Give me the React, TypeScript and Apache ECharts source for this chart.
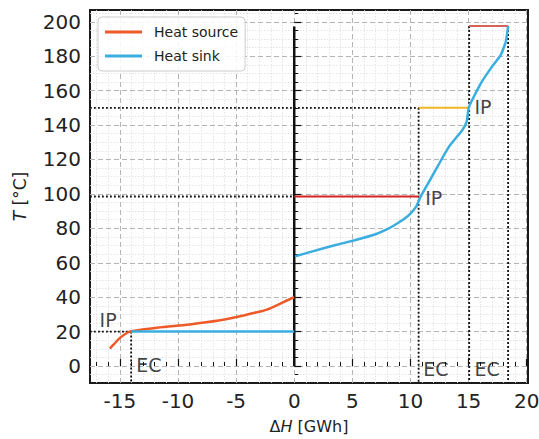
import React, { useEffect, useRef } from "react";
import * as echarts from "echarts";

// Axis limits (matplotlib style margins)
const X_MIN = -17.57;
const X_MAX = 20.11;
const Y_MIN = -9.85;
const Y_MAX = 206.85;

// Tick values
const xMajorTicks = [-15, -10, -5, 0, 5, 10, 15, 20];
const yMajorTicks = [0, 20, 40, 60, 80, 100, 120, 140, 160, 180, 200];
const xMinorTicks = [-17, -16, -14, -13, -12, -11, -9, -8, -7, -6, -4, -3, -2, -1, 1, 2, 3, 4, 6, 7, 8, 9, 11, 12, 13, 14, 16, 17, 18, 19];
const yMinorTicks = [-5, 5, 10, 15, 25, 30, 35, 45, 50, 55, 65, 70, 75, 85, 90, 95, 105, 110, 115, 125, 130, 135, 145, 150, 155, 165, 170, 175, 185, 190, 195, 205];

// Heat source curve
const sourceX = [-15.86, -15.55, -14.97, -14.4, -14.03, -11.8, -9.0, -6.5, -4.94, -3.5, -2.35, -1.2, 0];
const sourceT = [10.1, 12.4, 16.5, 19.2, 20.2, 22.3, 24.2, 26.4, 28.5, 30.8, 32.8, 36.3, 40.1];

// Heat sink: flat part and rising curve
const sinkFlatX = [-14.03, 0];
const sinkFlatT = [20, 20];
const sinkX = [0.09, 1.5, 3.4, 5.2, 7.0, 8.0, 8.85, 9.5, 10.0, 10.5, 10.86, 12.0, 13.3, 14.45, 14.83, 15.03, 16.03, 17.0, 17.76, 18.2, 18.4];
const sinkT = [63.8, 66.5, 70, 73.1, 76.6, 79.5, 82.8, 85.7, 88.6, 92.8, 98.3, 111.9, 127.3, 137, 141.9, 150.6, 164, 173.8, 180.6, 188.4, 197.5];

// Constant-temperature source levels
const levelStartX = [0, 10.7, 15.05];
const levelEndX = [10.7, 15.05, 18.4];
const levelT = [98.5, 150, 197.5];
const levelColors = ["#d42424", "#f2b824", "#d4645a"];

// Pinch / end markers (dotted lines)
const hDotT = [20, 98.5, 150];
const hDotEndX = [-14.03, 0, 10.7];
const vDotX = [-14.03, 10.7, 15.05, 18.4];
const vDotTopT = [20, 150, 197.5, 197.5];

// Divider line at ΔH = 0
const dividerX = 0;
const dividerT = [0, 197.3];

// Annotations
const annotX = [-16.75, 11.27, 15.5, -13.6, 11.1, 15.5];
const annotT = [26.6, 97.8, 150.3, 0.4, -1.5, -1.5];
const annotText = ["IP", "IP", "IP", "EC", "EC", "EC"];

const FONT = "DejaVu Sans";

export default function App() {
  const ref = useRef<HTMLDivElement>(null);

  useEffect(() => {
    if (!ref.current) return;
    const chart = echarts.init(ref.current, undefined, { renderer: "svg" });

    const dotStyle = { color: "#111", width: 1.8, type: [1.8, 2.2] as any };

    const series: any[] = [];

    hDotT.forEach((t, i) => {
      series.push({
        type: "line",
        symbol: "none",
        silent: true,
        z: 3,
        lineStyle: dotStyle,
        data: [
          [X_MIN, t],
          [hDotEndX[i], t],
        ],
      });
    });
    vDotX.forEach((x, i) => {
      series.push({
        type: "line",
        symbol: "none",
        silent: true,
        z: 3,
        lineStyle: dotStyle,
        data: [
          [x, vDotTopT[i]],
          [x, Y_MIN],
        ],
      });
    });

    series.push({
      type: "line",
      symbol: "none",
      silent: true,
      z: 4,
      lineStyle: { color: "#111", width: 2.5 },
      data: dividerT.map((t) => [dividerX, t]),
    });

    levelT.forEach((t, i) => {
      series.push({
        type: "line",
        symbol: "none",
        silent: true,
        z: 5,
        lineStyle: { color: levelColors[i], width: 2 },
        data: [
          [levelStartX[i], t],
          [levelEndX[i], t],
        ],
      });
    });

    series.push({
      name: "Heat source",
      type: "line",
      symbol: "none",
      smooth: 0.3,
      z: 6,
      color: "#ee5a28",
      lineStyle: { color: "#ee5a28", width: 2.5 },
      data: sourceX.map((x, i) => [x, sourceT[i]]),
    });
    series.push({
      name: "Heat sink",
      type: "line",
      symbol: "none",
      z: 6,
      color: "#3aaee0",
      lineStyle: { color: "#3aaee0", width: 2.5 },
      data: sinkFlatX.map((x, i) => [x, sinkFlatT[i]]),
    });
    series.push({
      name: "Heat sink",
      type: "line",
      symbol: "none",
      smooth: 0.15,
      z: 6,
      color: "#3aaee0",
      lineStyle: { color: "#3aaee0", width: 2.5 },
      data: sinkX.map((x, i) => [x, sinkT[i]]),
    });

    series.push({
      type: "scatter",
      symbolSize: 0,
      silent: true,
      z: 7,
      data: annotX.map((x, i) => [x, annotT[i], annotText[i]]),
      label: {
        show: true,
        position: [0, 0],
        align: "left",
        verticalAlign: "middle",
        formatter: (p: any) => p.data[2],
        fontFamily: FONT,
        fontSize: 19,
        color: "#111",
      },
    });

    const majorSplit = { show: true, lineStyle: { color: "#b4b4b4", width: 1, type: [5, 3] as any } };
    const minorSplit = { show: true, lineStyle: { color: "#dedede", width: 0.8, type: [1.5, 1.5] as any } };

    chart.setOption({
      animation: false,
      backgroundColor: "#ffffff",
      grid: {
        left: 90,
        top: 10,
        width: 438,
        height: 373,
        show: true,
        borderColor: "#1a1a1a",
        borderWidth: 2,
        backgroundColor: "transparent",
        containLabel: false,
        outerBoundsMode: "none",
      },
      legend: {
        data: ["Heat source", "Heat sink"],
        orient: "vertical",
        left: 98,
        top: 17,
        padding: [8, 7, 8, 7],
        itemWidth: 37,
        itemHeight: 3,
        itemGap: 10,
        icon: "rect",
        backgroundColor: "rgba(255,255,255,0.85)",
        borderColor: "#cccccc",
        borderWidth: 1,
        borderRadius: 4,
        textStyle: { fontFamily: FONT, fontSize: 14, color: "#222", padding: [0, 0, 0, 7] },
      },
      xAxis: [
        {
          type: "value",
          min: X_MIN,
          max: X_MAX,
          position: "bottom",
          z: 1,
          name: "{d|Δ}{i|H}{d| [GWh]}",
          nameLocation: "middle",
          nameGap: 35,
          nameTextStyle: {
            rich: {
              d: { fontFamily: FONT, fontSize: 16, color: "#222" },
              i: { fontFamily: FONT, fontSize: 16, color: "#222", fontStyle: "italic" },
            },
          },
          axisLine: { show: false },
          axisTick: { show: true, inside: true, length: 7, customValues: xMajorTicks, lineStyle: { color: "#111", width: 1.2 } },
          axisLabel: { customValues: xMajorTicks, fontFamily: FONT, fontSize: 20, color: "#222", margin: 8 },
          splitLine: majorSplit,
        },
        {
          type: "value",
          min: X_MIN,
          max: X_MAX,
          position: "bottom",
          z: 0,
          axisLine: { show: false },
          axisTick: { show: true, inside: true, length: 4, customValues: xMinorTicks, lineStyle: { color: "#111", width: 1 } },
          axisLabel: { show: false, customValues: xMinorTicks },
          splitLine: minorSplit,
        },
      ],
      yAxis: [
        {
          type: "value",
          min: Y_MIN,
          max: Y_MAX,
          position: "left",
          z: 1,
          name: "{i|T}{d| [°C]}",
          nameLocation: "middle",
          nameGap: 62,
          nameTextStyle: {
            rich: {
              d: { fontFamily: FONT, fontSize: 17, color: "#222" },
              i: { fontFamily: FONT, fontSize: 17, color: "#222", fontStyle: "italic" },
            },
          },
          axisLine: { show: false },
          axisTick: { show: true, inside: true, length: 7, customValues: yMajorTicks, lineStyle: { color: "#111", width: 1.2 } },
          axisLabel: { customValues: yMajorTicks, fontFamily: FONT, fontSize: 20, color: "#222", margin: 9 },
          splitLine: majorSplit,
        },
        {
          type: "value",
          min: Y_MIN,
          max: Y_MAX,
          position: "left",
          z: 0,
          axisLine: { show: false },
          axisTick: { show: true, inside: true, length: 4, customValues: yMinorTicks, lineStyle: { color: "#111", width: 1 } },
          axisLabel: { show: false, customValues: yMinorTicks },
          splitLine: minorSplit,
        },
      ],
      series,
    });

    return () => chart.dispose();
  }, []);

  return <div ref={ref} style={{ position: "fixed", left: 0, top: 0, width: 539, height: 439 }} />;
}
